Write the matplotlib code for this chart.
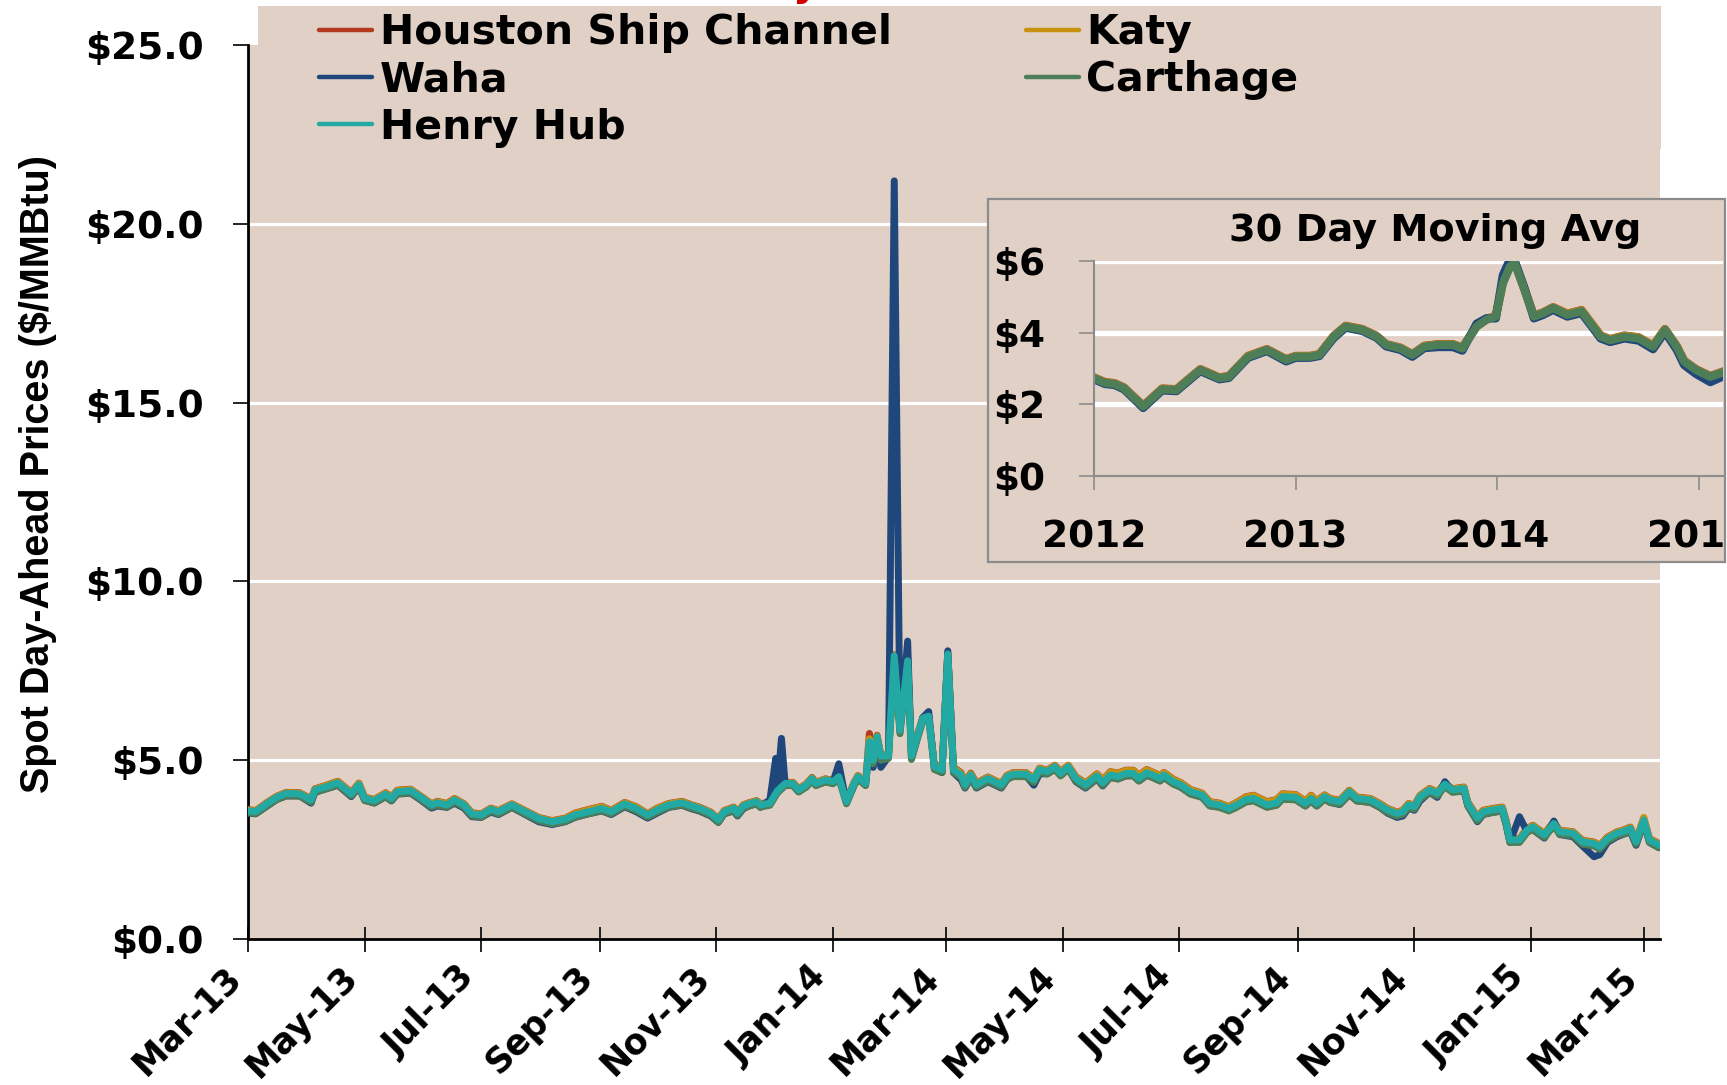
import matplotlib
matplotlib.use('Agg')
import matplotlib.pyplot as plt
from matplotlib.patches import Rectangle
from matplotlib.lines import Line2D
from matplotlib import font_manager
import pandas as pd

# ---------------- data ----------------
start_date = '2013-03-01'
day_offsets = [0, 4, 10, 15, 20, 27, 33, 35, 41, 47,
               54, 58, 61, 66, 72, 75, 78, 85, 90, 96,
               99, 104, 108, 113, 117, 122, 127, 131, 138, 145,
               152, 159, 166, 171, 178, 185, 190, 197, 203, 209,
               214, 220, 227, 232, 236, 242, 246, 249, 254, 256,
               259, 262, 266, 268, 273, 276, 277, 279, 281, 285,
               288, 292, 295, 297, 302, 306, 309, 313, 317, 319,
               323, 325, 327, 329, 331, 335, 338, 341, 345, 347,
               350, 353, 356, 359, 363, 366, 369, 373, 375, 378,
               381, 387, 394, 397, 400, 407, 411, 414, 418, 422,
               425, 429, 433, 438, 444, 447, 451, 455, 459, 463,
               466, 470, 473, 477, 479, 484, 488, 493, 499, 503,
               508, 513, 517, 522, 526, 533, 538, 541, 548, 553,
               556, 559, 563, 566, 571, 576, 580, 587, 592, 596,
               601, 604, 607, 610, 613, 618, 622, 626, 630, 636,
               638, 643, 646, 651, 656, 658, 660, 665, 669, 672,
               678, 683, 686, 693, 698, 704, 707, 711, 716, 719,
               723, 726, 730, 733, 738]

houston_ship_channel = [3.62, 3.59, 3.82, 3.99, 4.10, 4.09, 3.92, 4.20, 4.30, 4.41,
                        4.10, 4.36, 3.97, 3.90, 4.09, 3.97, 4.16, 4.19, 4.01, 3.78,
                        3.85, 3.79, 3.93, 3.78, 3.53, 3.50, 3.66, 3.59, 3.78, 3.59,
                        3.40, 3.31, 3.38, 3.52, 3.62, 3.71, 3.60, 3.82, 3.70, 3.50,
                        3.66, 3.79, 3.85, 3.75, 3.69, 3.55, 3.36, 3.59, 3.69, 3.55,
                        3.75, 3.81, 3.87, 3.78, 3.83, 4.10, 4.18, 4.28, 4.38, 4.38,
                        4.20, 4.34, 4.52, 4.38, 4.48, 4.43, 4.57, 3.87, 4.38, 4.57,
                        4.38, 5.75, 5.05, 5.70, 5.15, 5.15, 7.95, 5.90, 7.85, 5.30,
                        5.70, 6.20, 6.25, 4.88, 4.80, 8.00, 4.80, 4.65, 4.36, 4.64,
                        4.36, 4.53, 4.35, 4.58, 4.65, 4.65, 4.50, 4.78, 4.72, 4.86,
                        4.68, 4.86, 4.54, 4.36, 4.62, 4.45, 4.68, 4.64, 4.72, 4.72,
                        4.58, 4.74, 4.67, 4.57, 4.66, 4.47, 4.37, 4.18, 4.08, 3.84,
                        3.80, 3.70, 3.82, 3.98, 4.02, 3.84, 3.90, 4.06, 4.04, 3.86,
                        4.02, 3.86, 4.03, 3.93, 3.88, 4.16, 3.97, 3.93, 3.79, 3.65,
                        3.55, 3.60, 3.79, 3.74, 4.02, 4.21, 4.11, 4.35, 4.20, 4.25,
                        3.83, 3.42, 3.60, 3.65, 3.69, 3.32, 2.81, 2.81, 3.09, 3.18,
                        2.95, 3.27, 3.04, 3.00, 2.76, 2.71, 2.62, 2.85, 3.00, 3.04,
                        3.13, 2.76, 3.38, 2.81, 2.67]

katy = [3.61, 3.58, 3.81, 3.98, 4.09, 4.08, 3.91, 4.19, 4.29, 4.40,
        4.09, 4.35, 3.96, 3.89, 4.08, 3.96, 4.15, 4.18, 4.00, 3.77,
        3.84, 3.78, 3.92, 3.77, 3.52, 3.49, 3.65, 3.58, 3.77, 3.58,
        3.39, 3.30, 3.37, 3.51, 3.61, 3.70, 3.59, 3.81, 3.69, 3.49,
        3.65, 3.78, 3.84, 3.74, 3.68, 3.54, 3.35, 3.58, 3.68, 3.54,
        3.74, 3.80, 3.86, 3.77, 3.82, 4.09, 4.17, 4.27, 4.37, 4.37,
        4.19, 4.33, 4.51, 4.37, 4.47, 4.42, 4.56, 3.86, 4.37, 4.56,
        4.37, 5.60, 5.03, 5.68, 5.14, 5.14, 7.94, 5.88, 7.82, 5.25,
        5.68, 6.20, 6.24, 4.86, 4.78, 8.02, 4.78, 4.63, 4.34, 4.62,
        4.34, 4.52, 4.34, 4.57, 4.64, 4.64, 4.49, 4.77, 4.71, 4.85,
        4.67, 4.85, 4.53, 4.35, 4.61, 4.44, 4.67, 4.63, 4.71, 4.71,
        4.57, 4.73, 4.66, 4.56, 4.65, 4.46, 4.36, 4.17, 4.07, 3.83,
        3.79, 3.69, 3.81, 3.97, 4.01, 3.83, 3.89, 4.05, 4.03, 3.85,
        4.01, 3.85, 4.02, 3.92, 3.87, 4.15, 3.96, 3.92, 3.78, 3.64,
        3.54, 3.59, 3.78, 3.73, 4.01, 4.20, 4.10, 4.34, 4.19, 4.24,
        3.82, 3.41, 3.59, 3.64, 3.68, 3.31, 2.80, 2.80, 3.08, 3.17,
        2.94, 3.26, 3.03, 2.99, 2.75, 2.70, 2.61, 2.84, 2.99, 3.03,
        3.12, 2.75, 3.40, 2.80, 2.66]

waha = [3.52, 3.50, 3.72, 3.90, 4.00, 4.00, 3.80, 4.10, 4.20, 4.30,
        3.98, 4.25, 3.88, 3.80, 3.98, 3.86, 4.05, 4.08, 3.90, 3.66,
        3.72, 3.68, 3.80, 3.66, 3.42, 3.40, 3.55, 3.48, 3.68, 3.48,
        3.28, 3.20, 3.28, 3.40, 3.50, 3.58, 3.48, 3.70, 3.56, 3.38,
        3.52, 3.68, 3.74, 3.64, 3.58, 3.44, 3.26, 3.50, 3.58, 3.44,
        3.64, 3.72, 3.78, 3.68, 3.90, 5.05, 4.30, 5.61, 4.30, 4.30,
        4.12, 4.26, 4.44, 4.30, 4.40, 4.40, 4.90, 3.80, 4.30, 4.50,
        4.30, 5.40, 4.80, 5.55, 4.80, 5.10, 21.2, 5.80, 8.33, 5.05,
        5.60, 6.20, 6.36, 4.75, 4.65, 8.06, 4.65, 4.45, 4.22, 4.50,
        4.22, 4.40, 4.22, 4.46, 4.55, 4.56, 4.30, 4.62, 4.62, 4.75,
        4.58, 4.76, 4.40, 4.22, 4.48, 4.28, 4.52, 4.48, 4.56, 4.57,
        4.42, 4.58, 4.52, 4.42, 4.52, 4.34, 4.24, 4.06, 3.97, 3.73,
        3.69, 3.60, 3.70, 3.85, 3.88, 3.70, 3.75, 3.92, 3.90, 3.72,
        3.86, 3.72, 3.92, 3.82, 3.76, 4.04, 3.86, 3.82, 3.68, 3.52,
        3.40, 3.44, 3.66, 3.60, 3.86, 4.10, 3.96, 4.40, 4.12, 4.14,
        3.72, 3.28, 3.48, 3.54, 3.58, 3.20, 2.70, 3.42, 3.00, 3.06,
        2.82, 3.30, 2.92, 2.86, 2.60, 2.30, 2.36, 2.70, 2.86, 2.92,
        3.00, 2.62, 3.25, 2.70, 2.55]

carthage = [3.53, 3.51, 3.73, 3.90, 4.01, 4.00, 3.83, 4.11, 4.20, 4.31,
            4.00, 4.26, 3.87, 3.81, 3.99, 3.87, 4.06, 4.09, 3.92, 3.69,
            3.75, 3.69, 3.83, 3.69, 3.44, 3.41, 3.57, 3.50, 3.69, 3.50,
            3.31, 3.22, 3.29, 3.41, 3.50, 3.59, 3.50, 3.72, 3.59, 3.41,
            3.55, 3.69, 3.75, 3.66, 3.60, 3.46, 3.27, 3.50, 3.60, 3.46,
            3.66, 3.72, 3.78, 3.69, 3.74, 4.01, 4.09, 4.19, 4.29, 4.29,
            4.11, 4.25, 4.43, 4.29, 4.39, 4.34, 4.48, 3.78, 4.29, 4.48,
            4.29, 5.45, 4.90, 5.58, 5.00, 5.05, 7.80, 5.74, 7.65, 5.02,
            5.58, 6.10, 6.15, 4.74, 4.66, 7.90, 4.66, 4.52, 4.24, 4.52,
            4.24, 4.42, 4.24, 4.47, 4.54, 4.54, 4.38, 4.67, 4.61, 4.75,
            4.56, 4.75, 4.42, 4.24, 4.49, 4.30, 4.52, 4.47, 4.56, 4.56,
            4.42, 4.58, 4.52, 4.42, 4.52, 4.33, 4.24, 4.05, 3.96, 3.72,
            3.68, 3.58, 3.68, 3.83, 3.86, 3.68, 3.74, 3.91, 3.89, 3.72,
            3.86, 3.72, 3.91, 3.82, 3.77, 4.05, 3.86, 3.82, 3.68, 3.54,
            3.44, 3.49, 3.68, 3.63, 3.91, 4.10, 4.00, 4.26, 4.10, 4.14,
            3.72, 3.31, 3.49, 3.54, 3.58, 3.21, 2.70, 2.70, 2.98, 3.07,
            2.84, 3.16, 2.93, 2.89, 2.65, 2.60, 2.51, 2.74, 2.89, 2.93,
            3.02, 2.65, 3.26, 2.70, 2.56]

henry_hub = [3.59, 3.56, 3.79, 3.96, 4.07, 4.06, 3.89, 4.17, 4.26, 4.37,
             4.06, 4.32, 3.93, 3.87, 4.05, 3.93, 4.12, 4.15, 3.98, 3.75,
             3.81, 3.75, 3.89, 3.75, 3.50, 3.47, 3.63, 3.56, 3.75, 3.56,
             3.37, 3.28, 3.35, 3.47, 3.56, 3.65, 3.56, 3.78, 3.65, 3.47,
             3.61, 3.75, 3.81, 3.72, 3.66, 3.52, 3.33, 3.56, 3.66, 3.52,
             3.72, 3.78, 3.84, 3.75, 3.80, 4.07, 4.15, 4.25, 4.35, 4.35,
             4.17, 4.31, 4.49, 4.35, 4.45, 4.40, 4.54, 3.84, 4.35, 4.54,
             4.35, 5.52, 5.00, 5.66, 5.12, 5.12, 7.92, 5.84, 7.78, 5.12,
             5.66, 6.18, 6.23, 4.82, 4.73, 7.97, 4.73, 4.59, 4.31, 4.59,
             4.31, 4.49, 4.31, 4.54, 4.61, 4.61, 4.45, 4.74, 4.68, 4.82,
             4.63, 4.82, 4.49, 4.31, 4.56, 4.37, 4.59, 4.54, 4.63, 4.63,
             4.49, 4.65, 4.59, 4.49, 4.59, 4.40, 4.31, 4.12, 4.03, 3.79,
             3.75, 3.65, 3.75, 3.90, 3.93, 3.75, 3.81, 3.98, 3.96, 3.79,
             3.93, 3.79, 3.98, 3.89, 3.84, 4.12, 3.93, 3.89, 3.75, 3.61,
             3.51, 3.56, 3.75, 3.70, 3.98, 4.17, 4.07, 4.33, 4.17, 4.21,
             3.79, 3.38, 3.56, 3.61, 3.65, 3.28, 2.77, 2.77, 3.05, 3.14,
             2.91, 3.23, 3.00, 2.96, 2.72, 2.67, 2.58, 2.81, 2.96, 3.00,
             3.09, 2.72, 3.33, 2.77, 2.63]

series_names = ['Houston Ship Channel', 'Katy', 'Waha', 'Carthage', 'Henry Hub']
series_colors = ['#B23A1E', '#C8920E', '#1F477B', '#4E7E57', '#22A9A3']

y_ticks = [0, 5, 10, 15, 20, 25]
y_tick_labels = ['$0.0', '$5.0', '$10.0', '$15.0', '$20.0', '$25.0']
x_tick_dates = ['2013-03-01', '2013-05-01', '2013-07-01', '2013-09-01', '2013-11-01',
                '2014-01-01', '2014-03-01', '2014-05-01', '2014-07-01', '2014-09-01',
                '2014-11-01', '2015-01-01', '2015-03-01']
x_tick_labels = ['Mar-13', 'May-13', 'Jul-13', 'Sep-13', 'Nov-13', 'Jan-14', 'Mar-14',
                 'May-14', 'Jul-14', 'Sep-14', 'Nov-14', 'Jan-15', 'Mar-15']

# 30-day moving average (inset)
ma_years = [2012.000, 2012.054, 2012.102, 2012.149, 2012.244, 2012.338, 2012.409, 2012.527, 2012.622, 2012.669,
            2012.764, 2012.858, 2012.953, 2013.000, 2013.071, 2013.118, 2013.189, 2013.248, 2013.331, 2013.402,
            2013.449, 2013.520, 2013.579, 2013.638, 2013.709, 2013.780, 2013.827, 2013.898, 2013.946, 2013.993,
            2014.028, 2014.064, 2014.087, 2014.135, 2014.182, 2014.229, 2014.277, 2014.348, 2014.418, 2014.513,
            2014.560, 2014.631, 2014.702, 2014.773, 2014.832, 2014.891, 2014.927, 2014.986, 2015.057, 2015.128]
ma_hsc = [2.75, 2.62, 2.59, 2.47, 1.96, 2.44, 2.42, 2.98, 2.75, 2.79,
          3.35, 3.54, 3.26, 3.35, 3.35, 3.40, 3.91, 4.19, 4.10, 3.91,
          3.68, 3.58, 3.40, 3.63, 3.68, 3.68, 3.58, 4.19, 4.38, 4.47,
          5.40, 5.87, 5.96, 5.22, 4.47, 4.57, 4.71, 4.53, 4.63, 3.92,
          3.82, 3.92, 3.87, 3.64, 4.10, 3.62, 3.22, 2.98, 2.79, 2.93]
ma_katy = [2.74, 2.61, 2.58, 2.46, 1.95, 2.43, 2.41, 2.97, 2.74, 2.78,
           3.34, 3.53, 3.25, 3.34, 3.34, 3.39, 3.90, 4.18, 4.09, 3.90,
           3.67, 3.57, 3.39, 3.62, 3.67, 3.67, 3.57, 4.18, 4.37, 4.46,
           5.42, 5.90, 5.98, 5.21, 4.46, 4.56, 4.70, 4.52, 4.62, 3.91,
           3.81, 3.91, 3.86, 3.63, 4.09, 3.61, 3.21, 2.97, 2.78, 2.92]
ma_waha = [2.70, 2.57, 2.54, 2.42, 1.90, 2.39, 2.37, 2.93, 2.70, 2.74,
           3.30, 3.49, 3.20, 3.30, 3.30, 3.35, 3.85, 4.14, 4.05, 3.86,
           3.62, 3.52, 3.33, 3.57, 3.60, 3.60, 3.50, 4.25, 4.40, 4.40,
           5.60, 6.05, 6.00, 5.25, 4.40, 4.50, 4.64, 4.45, 4.55, 3.84,
           3.74, 3.84, 3.78, 3.54, 4.02, 3.52, 3.10, 2.85, 2.62, 2.80]
ma_carthage = [2.73, 2.60, 2.57, 2.45, 1.94, 2.42, 2.40, 2.96, 2.73, 2.77,
               3.33, 3.52, 3.24, 3.33, 3.33, 3.38, 3.89, 4.17, 4.08, 3.89,
               3.66, 3.56, 3.38, 3.61, 3.66, 3.66, 3.56, 4.17, 4.36, 4.45,
               5.38, 5.85, 5.94, 5.20, 4.45, 4.55, 4.69, 4.50, 4.60, 3.89,
               3.79, 3.89, 3.84, 3.61, 4.08, 3.60, 3.20, 2.96, 2.77, 2.91]
inset_y_ticks = [0, 2, 4, 6]
inset_y_labels = ['$0', '$2', '$4', '$6']
inset_x_ticks = [2012, 2013, 2014, 2015]
inset_x_labels = ['2012', '2013', '2014', '2015']

# ---------------- layout helpers ----------------
W, H = 1727, 1085
fig = plt.figure(figsize=(W / 100, H / 100), dpi=100)
fig.patch.set_facecolor('white')


def fx(px):
    return px / W


def fy(py):
    return 1 - py / H


BG = '#E0D0C6'
GRAY = '#8C8C8C'
BOLD = 'DejaVu Sans'

start = pd.Timestamp(start_date)
dates = start + pd.to_timedelta(day_offsets, unit='D')

# ---------------- main axes ----------------
ax = fig.add_axes([fx(248), fy(939), fx(1660) - fx(248), fy(45) - fy(939)])
ax.set_facecolor(BG)
all_series = [houston_ship_channel, katy, waha, carthage, henry_hub]
lines = {}
for name, vals, col in zip(series_names, all_series, series_colors):
    ln, = ax.plot(dates, vals, color=col, lw=5, solid_joinstyle='round',
                  solid_capstyle='round', zorder=3)
    lines[name] = ln

ax.set_ylim(0, 25)
ax.set_xlim(start, start + pd.Timedelta(days=738.5))
ax.set_yticks(y_ticks)
ax.set_yticklabels(y_tick_labels, fontsize=27, fontweight='bold', family=BOLD)
ax.set_xticks(pd.to_datetime(x_tick_dates))
ax.set_xticklabels(x_tick_labels, fontsize=25, fontweight='bold', family=BOLD,
                   rotation=45, ha='right')
ax.tick_params(axis='y', direction='out', length=11, width=1.2, pad=21, colors='black')
ax.tick_params(axis='x', direction='inout', length=18, width=1.2, pad=6, colors='black')
ax.yaxis.grid(True, color='white', lw=2.3)
ax.set_axisbelow(True)
gl = ax.get_ygridlines()
gl[0].set_visible(False)
gl[-1].set_visible(False)
for s in ['top', 'right']:
    ax.spines[s].set_visible(False)
for s in ['left', 'bottom']:
    ax.spines[s].set_linewidth(2)
    ax.spines[s].set_color('black')

# y label
names_avail = {f.name for f in font_manager.fontManager.ttflist}
if 'Liberation Sans Narrow' in names_avail:
    ylab_fam, ylab_size = 'Liberation Sans Narrow', 34
else:
    ylab_fam, ylab_size = 'Liberation Sans', 28.5
fig.text(fx(38), fy(474), 'Spot Day-Ahead Prices ($/MMBtu)', rotation=90,
         ha='center', va='center', fontsize=ylab_size, fontweight='bold', family=ylab_fam)

# partially visible red title (cut off at top)
fig.text(fx(806), 1 + 5 / H, 'y', color='#D40000', fontsize=29, fontweight='bold',
         family=BOLD, ha='center', va='baseline')

# ---------------- legend ----------------
fig.add_artist(Rectangle((fx(258), fy(149)), fx(1661) - fx(258), fy(6) - fy(149),
                         transform=fig.transFigure, facecolor=BG, edgecolor='none', zorder=2))
order = ['Houston Ship Channel', 'Waha', 'Henry Hub', 'Katy', 'Carthage']
handles = [Line2D([], [], color=lines[n].get_color(), lw=3.2, solid_capstyle='round') for n in order]
leg = fig.legend(handles, order, ncol=2, loc='upper left', bbox_to_anchor=(fx(319), fy(13)),
                 frameon=False, prop={'family': BOLD, 'weight': 'bold', 'size': 29.5},
                 handlelength=1.3, handletextpad=0.18, columnspacing=3.27,
                 labelspacing=0.18, borderpad=0, borderaxespad=0)
leg.set_zorder(3)

# ---------------- inset ----------------
fig.add_artist(Rectangle((fx(988), fy(562)), fx(1725) - fx(988), fy(199) - fy(562),
                         transform=fig.transFigure, facecolor=BG, edgecolor=GRAY,
                         lw=1.6, zorder=4))
iax = fig.add_axes([fx(1094), fy(476), fx(1723) - fx(1094), fy(261) - fy(476)], zorder=5)
iax.patch.set_alpha(0)
ma_series = [ma_hsc, ma_katy, ma_waha, ma_carthage]
ma_colors = [series_colors[0], series_colors[1], series_colors[2], series_colors[3]]
for vals, col in zip(ma_series, ma_colors):
    iax.plot(ma_years, vals, color=col, lw=6, solid_joinstyle='round', solid_capstyle='round')
iax.set_xlim(2012, 2015.12)
iax.set_ylim(0, 6)
iax.set_yticks(inset_y_ticks)
iax.set_yticklabels(inset_y_labels, fontsize=27, fontweight='bold', family=BOLD)
iax.set_xticks(inset_x_ticks)
iax.set_xticklabels(inset_x_labels, fontsize=27, fontweight='bold', family=BOLD)
iax.tick_params(axis='y', direction='out', length=11, width=1.2, color=GRAY, pad=24)
iax.tick_params(axis='x', direction='out', length=10, width=1.2, color=GRAY, pad=21)
iax.yaxis.grid(True, color='white', lw=3.8)
iax.set_axisbelow(True)
iax.get_ygridlines()[0].set_visible(False)
for s in ['top', 'right']:
    iax.spines[s].set_visible(False)
for s in ['left', 'bottom']:
    iax.spines[s].set_color(GRAY)
    iax.spines[s].set_linewidth(1.5)
fig.text(fx(1435), fy(231), '30 Day Moving Avg', ha='center', va='center',
         fontsize=27.5, fontweight='bold', family=BOLD, zorder=6)

fig.savefig('out.png', dpi=100, facecolor='white')
